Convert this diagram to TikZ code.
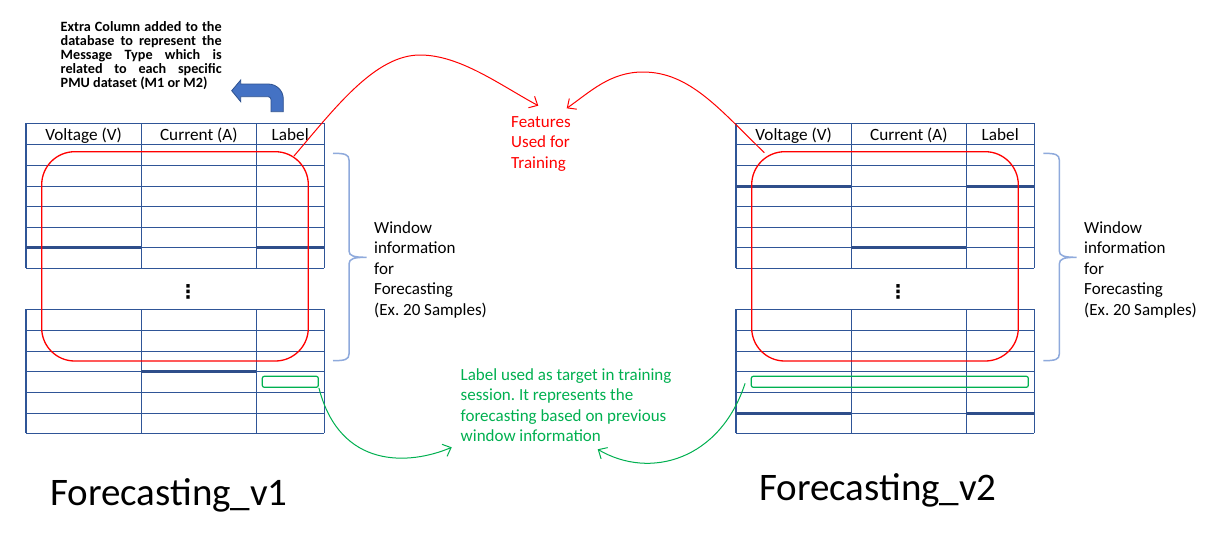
\documentclass[tikz,border=0pt]{standalone}
\usepackage{fontspec}
\setmainfont{Carlito}
\newfontfamily\dejavu{DejaVu Sans}
\usetikzlibrary{arrows.meta,calc}
\definecolor{tblblue}{HTML}{2F5597}
\definecolor{tbldark}{HTML}{2F4E8A}
\definecolor{brc}{HTML}{8FAADC}
\definecolor{grn}{HTML}{00B050}
\definecolor{arrfill}{HTML}{4472C4}
\definecolor{arrline}{HTML}{2F528F}
\frenchspacing
\begin{document}
\begin{tikzpicture}[x=1pt,y=-1pt,
  tbl/.style={draw=tblblue,line width=1.3pt},
  tblthick/.style={draw=tbldark,line width=2.6pt},
  hdr/.style={anchor=base,inner sep=0pt,font=\fontsize{17.2}{20}\selectfont},
  redbox/.style={draw=red,line width=1.3pt,rounded corners=33pt,minimum width=266.6pt,minimum height=209.3pt,inner sep=0pt},
  grnbox/.style={draw=grn,line width=1.2pt,rounded corners=2pt,minimum height=11pt,inner sep=0pt},
  redarr/.style={draw=red,line width=1pt,-{Straight Barb[length=7pt,width=13pt]}},
  grnarr/.style={draw=grn,line width=1pt,-{Straight Barb[length=7pt,width=13pt]}},
  bracestyle/.style={draw=brc,line width=1.5pt},
  txt/.style={anchor=base west,inner sep=0pt,align=left,font=\fontsize{17}{20.5}\selectfont},
  title/.style={anchor=base west,inner sep=0pt,font=\fontsize{39}{44}\selectfont},
  vdot/.style={inner sep=0pt,font=\dejavu\bfseries\fontsize{19}{20}\selectfont}
]
\useasboundingbox (0,0) rectangle (1220,541);
\fill[white] (0,0) rectangle (1220,541);

% ---------- tables ----------
\foreach \X in {0,710} {
  \foreach \y in {123.3,144.3,165.3,186.3,206.7,227.3,247.7,268.3,309.3,330.3,351.3,371.3,392.3,413.3,433.3}
    \draw[tbl] (\X+26,\y) -- (\X+324.2,\y);
  \foreach \x in {26,141.3,256.3,324.2} {
    \draw[tbl] (\X+\x,123.3) -- (\X+\x,268.3);
    \draw[tbl] (\X+\x,309.3) -- (\X+\x,433.3);
  }
}
% thick row borders
\draw[tblthick] (26,247.7) -- (141.3,247.7);
\draw[tblthick] (256.3,247.7) -- (324.2,247.7);
\draw[tblthick] (141.3,371.3) -- (256.3,371.3);
\draw[tblthick] (736,186.3) -- (851.3,186.3);
\draw[tblthick] (966.3,186.3) -- (1034.2,186.3);
\draw[tblthick] (851.3,247.7) -- (966.3,247.7);
\draw[tblthick] (736,413.3) -- (851.3,413.3);
\draw[tblthick] (966.3,413.3) -- (1034.2,413.3);

% headers
\node[hdr] (hV1) at (83.6,140) {Voltage (V)};
\node[hdr] (hC1) at (198.8,140) {Current (A)};
\node[hdr] (hL1) at (290.2,140) {Label};
\node[hdr] (hV2) at (793.6,140) {Voltage (V)};
\node[hdr] (hC2) at (908.8,140) {Current (A)};
\node[hdr] (hL2) at (1000.2,140) {Label};

% vertical ellipsis
\node[vdot] (dots1) at (188,291.7) {⋮};
\node[vdot] (dots2) at (898,291.7) {⋮};

% ---------- red windows ----------
\node[redbox] (winL) at (175,256.35) {};
\node[redbox] (winR) at (885,256.35) {};

% ---------- green target boxes ----------
\node[grnbox,minimum width=56pt] (grnL) at (290.3,381.8) {};
\node[grnbox,minimum width=277pt] (grnR) at (889.8,381.8) {};

% ---------- braces ----------
\draw[bracestyle] (333,153.3) .. controls (345,153.3) and (349,154.5) .. (349,160)
  -- (349,251) .. controls (349,256) and (354,257.3) .. (366.7,257.3)
  .. controls (354,257.3) and (349,258.6) .. (349,264)
  -- (349,354) .. controls (349,359.5) and (345,360.7) .. (333,360.7);
\draw[bracestyle] (1043.3,153.3) .. controls (1055.3,153.3) and (1059.3,154.5) .. (1059.3,160)
  -- (1059.3,251) .. controls (1059.3,256) and (1064.3,257.3) .. (1076.7,257.3)
  .. controls (1064.3,257.3) and (1059.3,258.6) .. (1059.3,264)
  -- (1059.3,354) .. controls (1059.3,359.5) and (1055.3,360.7) .. (1043.3,360.7);

% ---------- texts (base anchor = last line) ----------
\node[txt] (winTxtL) at (374,315.3) {Window\\information\\for\\Forecasting\\(Ex. 20 Samples)};
\node[txt] (winTxtR) at (1084,315.3) {Window\\information\\for\\Forecasting\\(Ex. 20 Samples)};
\node[txt,text=red] (feat) at (511,168.3) {Features\\Used for\\Training};
\node[txt,text=grn] (gtxt) at (460.5,441.5) {Label used as target in training\\session. It represents the\\forecasting based on previous\\window information};
\node[anchor=base west,inner sep=0pt,text width=161pt,align=justify,
      font=\bfseries\fontsize{14.2}{14}\selectfont] (extra) at (60.5,31.5)
  {Extra Column added to the\linebreak database to represent the\linebreak Message Type which is\linebreak related to each specific\linebreak PMU dataset (M1 or M2)};
\node[title] (t1) at (50,505) {Forecasting\_v1};
\node[title] (t2) at (759,500.7) {Forecasting\_v2};

% ---------- bent arrow ----------
\filldraw[fill=arrfill,draw=arrline,line width=0.8pt]
  (231.7,90.7) -- (240.7,80) -- (240.7,84) -- (268,84)
  .. controls (276.5,84) and (283.3,90.5) .. (283.3,99) -- (283.3,111.7) -- (271,111.7) -- (271,99.5)
  .. controls (271,97.9) and (269.8,96.7) .. (268,96.7) -- (240.7,96.7) -- (240.7,101.7) -- cycle;

% ---------- connectors ----------
\coordinate (sL) at ($(winL.north east)+(-15,5)$);
\coordinate (sR) at ($(winR.north west)+(13.3,1.6)$);
\draw[redarr] (sL) .. controls (335,108) and (375,55) .. (420,55)
  .. controls (460,55) and (500,85) .. ([shift={(27.3,-62.6)}]feat.base west);
\draw[redarr] (sR) .. controls (720,110) and (690,72) .. (643,72)
  .. controls (610,72) and (590,92) .. ([shift={(55.7,-60)}]feat.base west);
\draw[grnarr] (grnL.south east) .. controls (340,470) and (410,465) .. ([shift={(-8.8,5.8)}]gtxt.base west);
\coordinate (gR) at ($(grnR.west)+(-5.6,1.5)$);
\draw[grnarr] (gR) .. controls (720,460) and (650,480) .. ([shift={(137.2,7.8)}]gtxt.base west);
\end{tikzpicture}
\end{document}
